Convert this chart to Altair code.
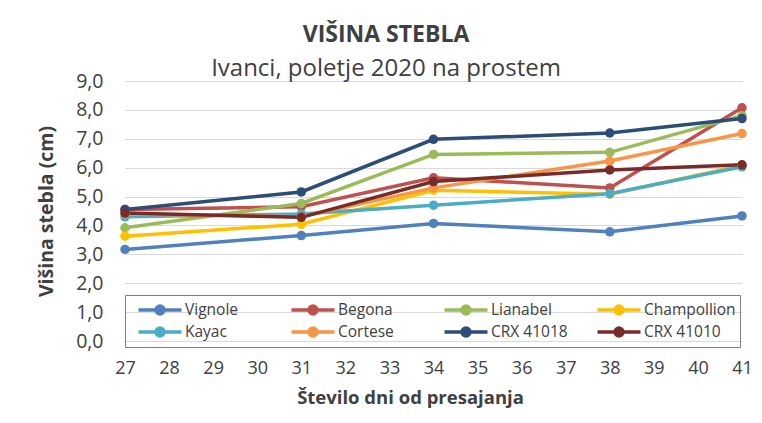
import altair as alt
import pandas as pd

days = [27, 31, 34, 38, 41]
series = ["Vignole", "Begona", "Lianabel", "Champollion",
          "Kayac", "Cortese", "CRX 41018", "CRX 41010"]
vignole = [3.17, 3.65, 4.07, 3.78, 4.33]
begona = [4.55, 4.65, 5.65, 5.30, 8.07]
lianabel = [3.92, 4.76, 6.46, 6.53, 7.80]
champollion = [3.63, 4.04, 5.22, 5.08, 6.08]
kayac = [4.30, 4.40, 4.70, 5.10, 6.03]
cortese = [4.40, 4.30, 5.30, 6.23, 7.18]
crx41018 = [4.55, 5.16, 6.98, 7.20, 7.70]
crx41010 = [4.43, 4.28, 5.52, 5.92, 6.10]
colors = ["#4F81BD", "#C0504D", "#9BBB59", "#FFC000",
          "#4BACC6", "#F79646", "#2C4D75", "#772C2A"]
y_ticks = [0, 1, 2, 3, 4, 5, 6, 7, 8, 9]
x_ticks = list(range(27, 42))

values = [vignole, begona, lianabel, champollion, kayac, cortese, crx41018, crx41010]
rows = []
for name, vals in zip(series, values):
    for d, v in zip(days, vals):
        rows.append({"dan": d, "visina": v, "sorta": name})
df = pd.DataFrame(rows)

FONT = "Open Sans"
TXT = "#404040"

color = alt.Color(
    "sorta:N",
    scale=alt.Scale(domain=series, range=colors),
    legend=alt.Legend(
        title=None,
        orient="none",
        direction="horizontal",
        legendX=0,
        legendY=214,
        columns=4,
        gridAlign="all",
        columnPadding=5,
        rowPadding=0,
        symbolType="M-2.39,0H2.39M-0.44,0a0.44,0.44 0 1,0 0.88,0a0.44,0.44 0 1,0 -0.88,0",
        symbolSize=324,
        symbolStrokeWidth=3.5,
        symbolOffset=20,
        labelOffset=14,
        labelFontSize=15.5,
        labelFont=FONT,
        labelColor=TXT,
        strokeColor="#7F7F7F",
        padding=4,
    ),
)

base = alt.Chart(df).encode(
    x=alt.X(
        "dan:Q",
        scale=alt.Scale(domain=[27, 41], nice=False, zero=False),
        axis=alt.Axis(
            values=x_ticks,
            title="Število dni od presajanja",
            grid=False,
            ticks=False,
            domain=False,
            labelFlush=False,
            labelPadding=18,
            labelFontSize=18,
            labelFont=FONT,
            labelColor=TXT,
            titleFontSize=18.5,
            titleFont=FONT,
            titleFontWeight="bold",
            titleColor=TXT,
            titlePadding=11,
            titleX=285,
            titleAnchor="start",
            titleAlign="center",
        ),
    ),
    y=alt.Y(
        "visina:Q",
        scale=alt.Scale(domain=[0, 9], nice=False),
        axis=alt.Axis(
            values=y_ticks,
            title="Višina stebla (cm)",
            labelExpr="replace(format(datum.value, '.1f'), '.', ',')",
            ticks=False,
            domain=False,
            labelFlush=False,
            gridColor="#D9D9D9",
            gridWidth=1,
            labelPadding=22,
            labelFontSize=19.5,
            labelFont=FONT,
            labelColor=TXT,
            titleFontSize=19.5,
            titleFont=FONT,
            titleFontWeight="bold",
            titleColor=TXT,
            titlePadding=19,
        ),
    ),
    color=color,
)

lines = base.mark_line(strokeWidth=3.5)
points = base.mark_point(filled=True, size=90, opacity=1)

chart = (
    alt.layer(lines, points)
    .properties(
        width=617,
        height=260,
        autosize=alt.AutoSizeParams(type="none"),
        padding={"left": 117, "top": 73, "right": 12, "bottom": 74},
        title=alt.Title(
            "VIŠINA STEBLA",
            subtitle="Ivanci, poletje 2020 na prostem",
            anchor="middle",
            dx=-47.5,
            fontSize=23,
            font=FONT,
            fontWeight="bold",
            color=TXT,
            subtitleFont=FONT,
            subtitleFontSize=24,
            subtitleColor=TXT,
            subtitlePadding=10,
            offset=-10,
        ),
    )
    .configure_view(stroke=None)
)

chart.save("out.html", embed_options={"renderer": "svg", "actions": False})
